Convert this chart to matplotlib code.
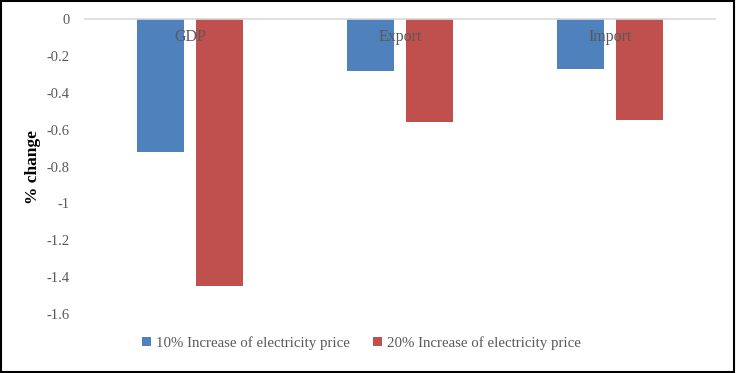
import matplotlib.pyplot as plt
import numpy as np
from matplotlib.patches import Rectangle

categories = ['GDP', 'Export', 'Import']
increase_10 = [-0.72, -0.28, -0.27]
increase_20 = [-1.45, -0.56, -0.55]
series_names = ['10% Increase of electricity price', '20% Increase of electricity price']
yticks = [0, -0.2, -0.4, -0.6, -0.8, -1, -1.2, -1.4, -1.6]

blue = '#4f81bd'
red = '#c0504d'
grey = '#595959'

plt.rcParams['font.family'] = ['Liberation Serif', 'DejaVu Serif']

fig = plt.figure(figsize=(7.37, 3.73), dpi=100)
ax = fig.add_axes([85 / 737, 1 - 314 / 373, 630 / 737, 295 / 373])

x = np.arange(len(categories))
w = 0.224
off = 0.14
ax.bar(x - off, increase_10, w, color=blue, label=series_names[0])
ax.bar(x + off, increase_20, w, color=red, label=series_names[1])

ax.set_xlim(-0.5, len(categories) - 0.5)
ax.set_ylim(-1.6, 0)
ax.set_yticks(yticks)
ax.set_yticklabels(['{:g}'.format(t) for t in yticks], color=grey, fontsize=10.5)
ax.tick_params(axis='y', length=0, pad=11)
ax.set_xticks([])

for s in ['left', 'right', 'bottom']:
    ax.spines[s].set_visible(False)
ax.spines['top'].set_color('#d9d9d9')
ax.spines['top'].set_linewidth(1.2)

for i, c in enumerate(categories):
    ax.text(i, -0.1, c, ha='center', va='center', color=grey, fontsize=11.5)

ax.set_ylabel('% change', fontsize=12.5, fontweight='bold', color='black')
ax.yaxis.set_label_coords(-0.07, 0.5)

ax.legend(loc='upper center', bbox_to_anchor=(0.439, -0.03), ncol=2, frameon=False,
          fontsize=10.7, labelcolor=grey, handlelength=0.6, handleheight=0.6,
          handletextpad=0.3, columnspacing=1.6)

fig.patches.append(Rectangle((0.002, 0.004), 0.994, 0.992, transform=fig.transFigure,
                             fill=False, edgecolor='black', linewidth=1.5))

fig.savefig('out.png', dpi=100)
